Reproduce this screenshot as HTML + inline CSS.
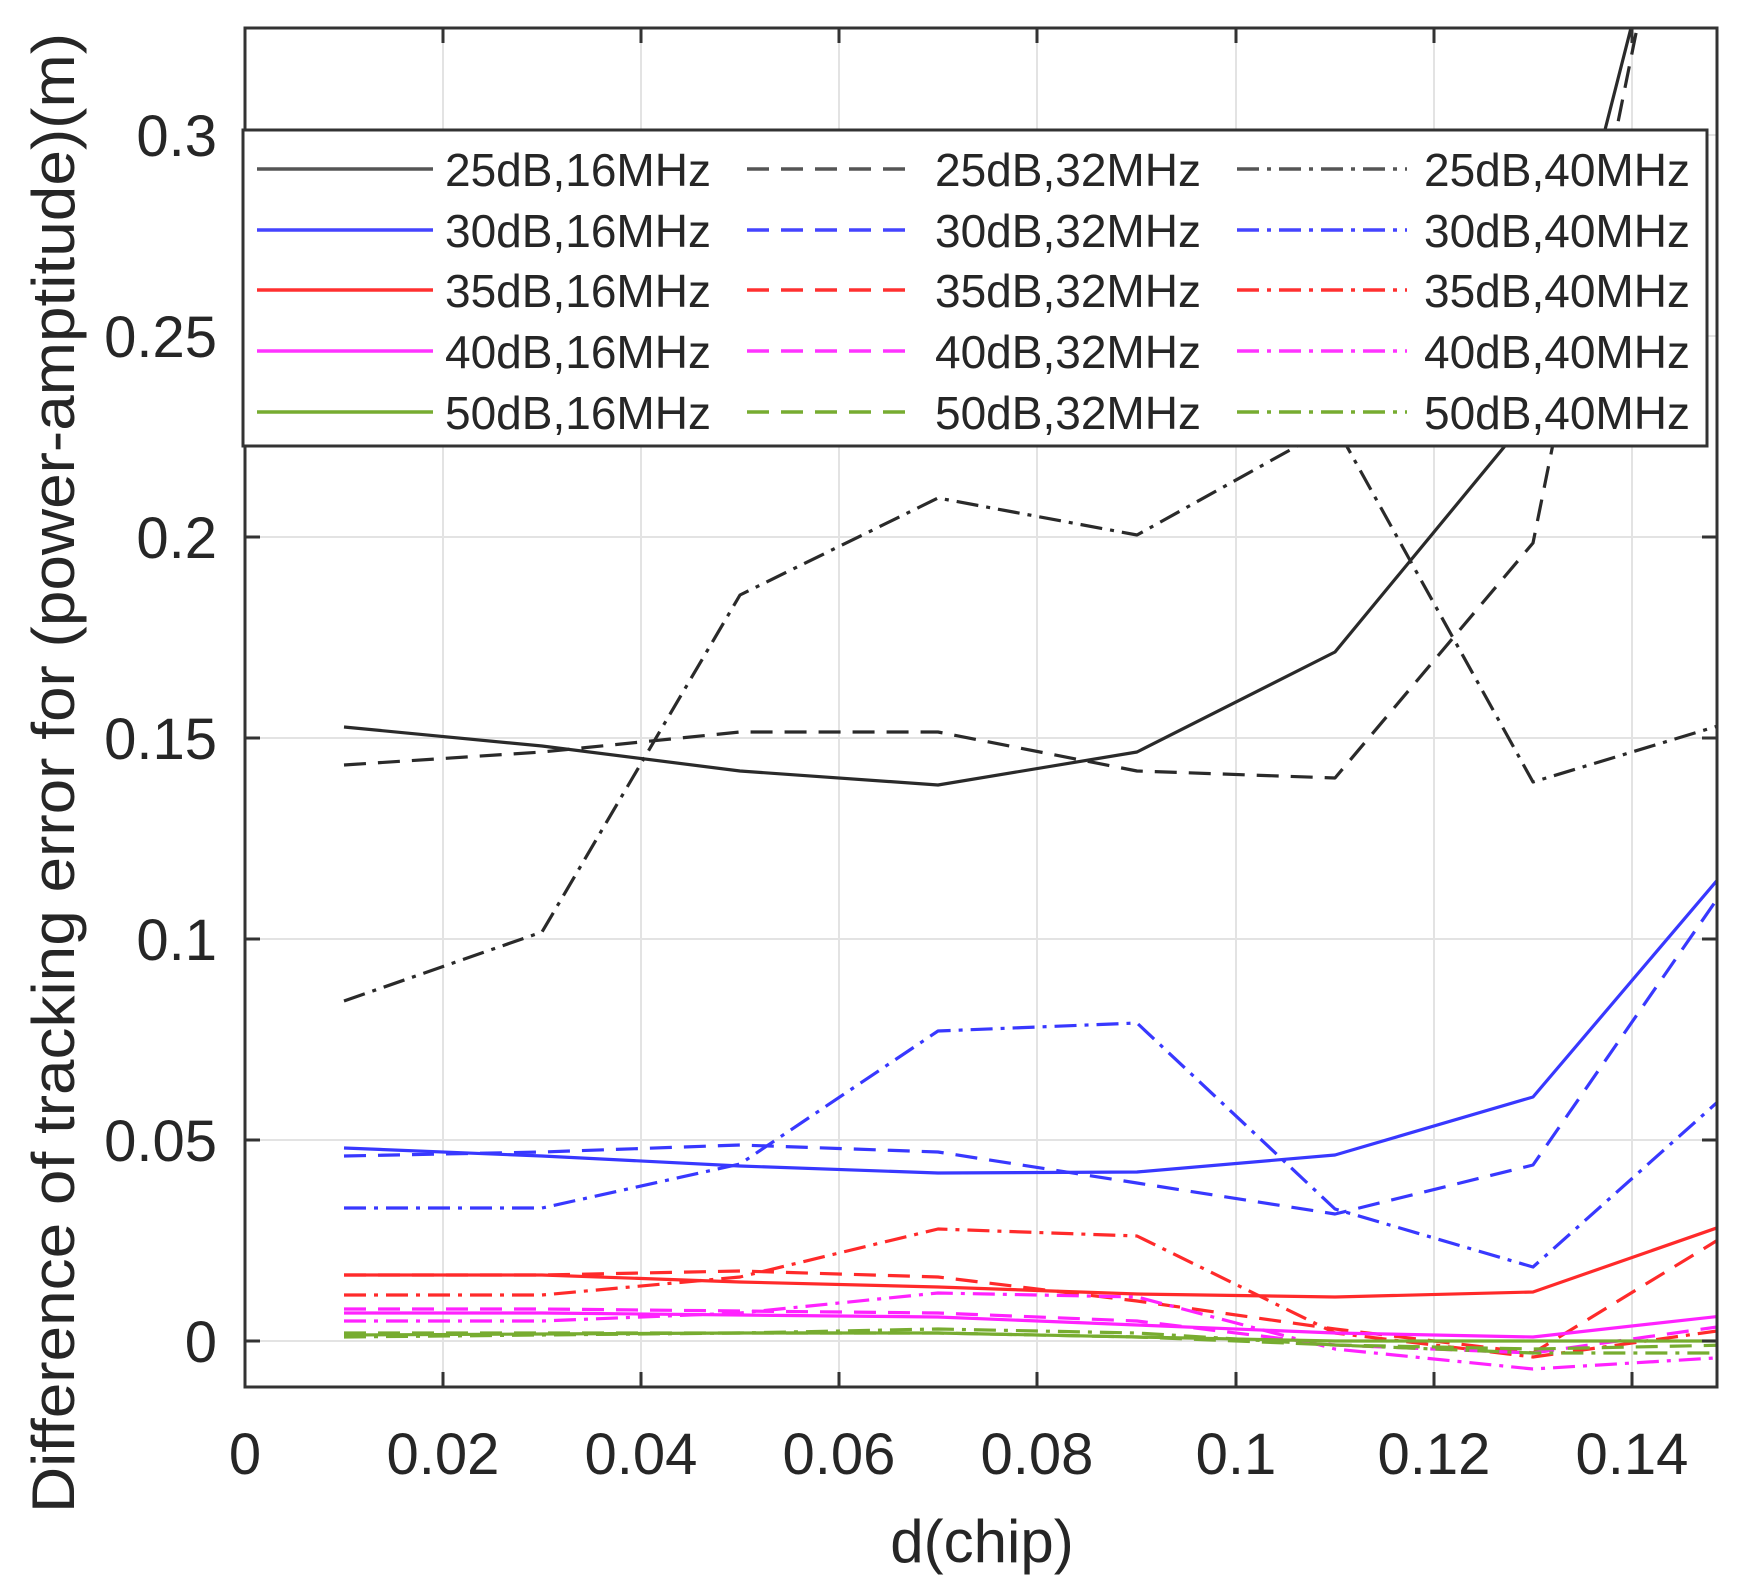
<!DOCTYPE html>
<html><head><meta charset="utf-8"><style>
html,body{margin:0;padding:0;background:#fff;}
svg{display:block;}
text{font-family:"Liberation Sans",Arial,sans-serif;fill:#262626;}
</style></head><body>
<svg width="1749" height="1593" viewBox="0 0 1749 1593" xmlns="http://www.w3.org/2000/svg">
<rect width="1749" height="1593" fill="#fff"/>
<defs><clipPath id="c"><rect x="245" y="28" width="1472" height="1359"/></clipPath></defs>
<g stroke="#e3e3e3" stroke-width="2">
<line x1="443" y1="28" x2="443" y2="1387"/><line x1="641" y1="28" x2="641" y2="1387"/>
<line x1="839" y1="28" x2="839" y2="1387"/><line x1="1037" y1="28" x2="1037" y2="1387"/>
<line x1="1236" y1="28" x2="1236" y2="1387"/><line x1="1434" y1="28" x2="1434" y2="1387"/>
<line x1="1632" y1="28" x2="1632" y2="1387"/>
<line x1="245" y1="1341" x2="1717" y2="1341"/><line x1="245" y1="1140" x2="1717" y2="1140"/>
<line x1="245" y1="939" x2="1717" y2="939"/><line x1="245" y1="738" x2="1717" y2="738"/>
<line x1="245" y1="537" x2="1717" y2="537"/><line x1="245" y1="336" x2="1717" y2="336"/>
<line x1="245" y1="135" x2="1717" y2="135"/>
</g>
<g clip-path="url(#c)" fill="none" stroke-width="3.2" stroke-linejoin="round">
<g stroke="#2a2a2a">
<polyline points="344,727 542,746 740,771 938,785 1137,752 1335,652 1533,412 1731,-364"/>
<polyline stroke-dasharray="22,12" points="344,765 542,752 740,732 938,732 1137,771 1335,778 1533,543 1731,-437"/>
<polyline stroke-dasharray="22,8,4,8" points="344,1001 542,932 740,595 938,498 1137,535 1335,425 1533,782 1731,722"/>
</g>
<g stroke="#3838ff">
<polyline points="344,1148 542,1156 740,1166 938,1173 1137,1172 1335,1155 1533,1097 1731,864"/>
<polyline stroke-dasharray="22,12" points="344,1156 542,1152 740,1145 938,1152 1137,1183 1335,1214 1533,1165 1731,879"/>
<polyline stroke-dasharray="22,8,4,8" points="344,1208 542,1208 740,1164 938,1031 1137,1023 1335,1209 1533,1267 1731,1090"/>
</g>
<g stroke="#ff2a2a">
<polyline points="344,1275 542,1275 740,1282 938,1287 1137,1294 1335,1297 1533,1292 1731,1223"/>
<polyline stroke-dasharray="22,12" points="344,1275 542,1275 740,1271 938,1277 1137,1301 1335,1329 1533,1353 1731,1232"/>
<polyline stroke-dasharray="22,8,4,8" points="344,1295 542,1295 740,1277 938,1229 1137,1236 1335,1333 1533,1357 1731,1329"/>
</g>
<g stroke="#ff22ff">
<polyline points="344,1313 542,1313 740,1315 938,1317 1137,1325 1335,1333 1533,1337 1731,1315"/>
<polyline stroke-dasharray="22,12" points="344,1309 542,1309 740,1311 938,1313 1137,1321 1335,1345 1533,1353 1731,1325"/>
<polyline stroke-dasharray="22,8,4,8" points="344,1321 542,1321 740,1313 938,1293 1137,1297 1335,1349 1533,1369 1731,1357"/>
</g>
<g stroke="#77ac30">
<polyline points="344,1335 542,1334 740,1333 938,1333 1137,1337 1335,1341 1533,1341 1731,1341"/>
<polyline stroke-dasharray="22,12" points="344,1333 542,1333 740,1333 938,1333 1137,1337 1335,1345 1533,1349 1731,1345"/>
<polyline stroke-dasharray="22,8,4,8" points="344,1337 542,1335 740,1333 938,1329 1137,1333 1335,1345 1533,1353 1731,1353"/>
</g>
</g>
<rect x="245" y="28" width="1472" height="1359" fill="none" stroke="#333" stroke-width="3"/>
<g stroke="#333" stroke-width="3">
<line x1="443" y1="1387" x2="443" y2="1372"/><line x1="641" y1="1387" x2="641" y2="1372"/>
<line x1="839" y1="1387" x2="839" y2="1372"/><line x1="1037" y1="1387" x2="1037" y2="1372"/>
<line x1="1236" y1="1387" x2="1236" y2="1372"/><line x1="1434" y1="1387" x2="1434" y2="1372"/>
<line x1="1632" y1="1387" x2="1632" y2="1372"/>
<line x1="443" y1="28" x2="443" y2="43"/><line x1="641" y1="28" x2="641" y2="43"/>
<line x1="839" y1="28" x2="839" y2="43"/><line x1="1037" y1="28" x2="1037" y2="43"/>
<line x1="1236" y1="28" x2="1236" y2="43"/><line x1="1434" y1="28" x2="1434" y2="43"/>
<line x1="1632" y1="28" x2="1632" y2="43"/>
<line x1="245" y1="1341" x2="260" y2="1341"/><line x1="245" y1="1140" x2="260" y2="1140"/>
<line x1="245" y1="939" x2="260" y2="939"/><line x1="245" y1="738" x2="260" y2="738"/>
<line x1="245" y1="537" x2="260" y2="537"/><line x1="245" y1="336" x2="260" y2="336"/>
<line x1="1717" y1="1341" x2="1702" y2="1341"/><line x1="1717" y1="1140" x2="1702" y2="1140"/>
<line x1="1717" y1="939" x2="1702" y2="939"/><line x1="1717" y1="738" x2="1702" y2="738"/>
<line x1="1717" y1="537" x2="1702" y2="537"/>
</g>
<g font-size="58" text-anchor="end">
<text x="217" y="1362">0</text><text x="217" y="1161">0.05</text><text x="217" y="960">0.1</text>
<text x="217" y="759">0.15</text><text x="217" y="558">0.2</text><text x="217" y="357">0.25</text>
<text x="217" y="156">0.3</text>
</g>
<g font-size="58" text-anchor="middle">
<text x="245" y="1474">0</text><text x="443" y="1474">0.02</text><text x="641" y="1474">0.04</text>
<text x="839" y="1474">0.06</text><text x="1037" y="1474">0.08</text><text x="1236" y="1474">0.1</text>
<text x="1434" y="1474">0.12</text><text x="1632" y="1474">0.14</text>
</g>
<text x="982" y="1562" font-size="60" text-anchor="middle">d(chip)</text>
<text transform="translate(74,773) rotate(-90)" font-size="60" text-anchor="middle" textLength="1480" lengthAdjust="spacingAndGlyphs">Difference of tracking error for (power-amptitude)(m)</text>
<rect x="243" y="130" width="1464" height="316" fill="#fff" stroke="#333" stroke-width="3"/>
<g stroke-width="3.5" fill="none">
<g stroke="#555"><line x1="257" y1="169" x2="433" y2="169"/><line x1="747" y1="169" x2="917" y2="169" stroke-dasharray="22,12"/><line x1="1237" y1="169" x2="1407" y2="169" stroke-dasharray="22,8,4,8"/></g>
<g stroke="#4444ff"><line x1="257" y1="230" x2="433" y2="230"/><line x1="747" y1="230" x2="917" y2="230" stroke-dasharray="22,12"/><line x1="1237" y1="230" x2="1407" y2="230" stroke-dasharray="22,8,4,8"/></g>
<g stroke="#ff3030"><line x1="257" y1="290" x2="433" y2="290"/><line x1="747" y1="290" x2="917" y2="290" stroke-dasharray="22,12"/><line x1="1237" y1="290" x2="1407" y2="290" stroke-dasharray="22,8,4,8"/></g>
<g stroke="#ff33ff"><line x1="257" y1="351" x2="433" y2="351"/><line x1="747" y1="351" x2="917" y2="351" stroke-dasharray="22,12"/><line x1="1237" y1="351" x2="1407" y2="351" stroke-dasharray="22,8,4,8"/></g>
<g stroke="#77ac30"><line x1="257" y1="412" x2="433" y2="412"/><line x1="747" y1="412" x2="917" y2="412" stroke-dasharray="22,12"/><line x1="1237" y1="412" x2="1407" y2="412" stroke-dasharray="22,8,4,8"/></g>
</g>
<g font-size="46">
<text x="445" y="186" textLength="266" lengthAdjust="spacingAndGlyphs">25dB,16MHz</text>
<text x="445" y="247" textLength="266" lengthAdjust="spacingAndGlyphs">30dB,16MHz</text>
<text x="445" y="307" textLength="266" lengthAdjust="spacingAndGlyphs">35dB,16MHz</text>
<text x="445" y="368" textLength="266" lengthAdjust="spacingAndGlyphs">40dB,16MHz</text>
<text x="445" y="429" textLength="266" lengthAdjust="spacingAndGlyphs">50dB,16MHz</text>
<text x="935" y="186" textLength="266" lengthAdjust="spacingAndGlyphs">25dB,32MHz</text>
<text x="935" y="247" textLength="266" lengthAdjust="spacingAndGlyphs">30dB,32MHz</text>
<text x="935" y="307" textLength="266" lengthAdjust="spacingAndGlyphs">35dB,32MHz</text>
<text x="935" y="368" textLength="266" lengthAdjust="spacingAndGlyphs">40dB,32MHz</text>
<text x="935" y="429" textLength="266" lengthAdjust="spacingAndGlyphs">50dB,32MHz</text>
<text x="1424" y="186" textLength="266" lengthAdjust="spacingAndGlyphs">25dB,40MHz</text>
<text x="1424" y="247" textLength="266" lengthAdjust="spacingAndGlyphs">30dB,40MHz</text>
<text x="1424" y="307" textLength="266" lengthAdjust="spacingAndGlyphs">35dB,40MHz</text>
<text x="1424" y="368" textLength="266" lengthAdjust="spacingAndGlyphs">40dB,40MHz</text>
<text x="1424" y="429" textLength="266" lengthAdjust="spacingAndGlyphs">50dB,40MHz</text>
</g>
</svg>
</body></html>
